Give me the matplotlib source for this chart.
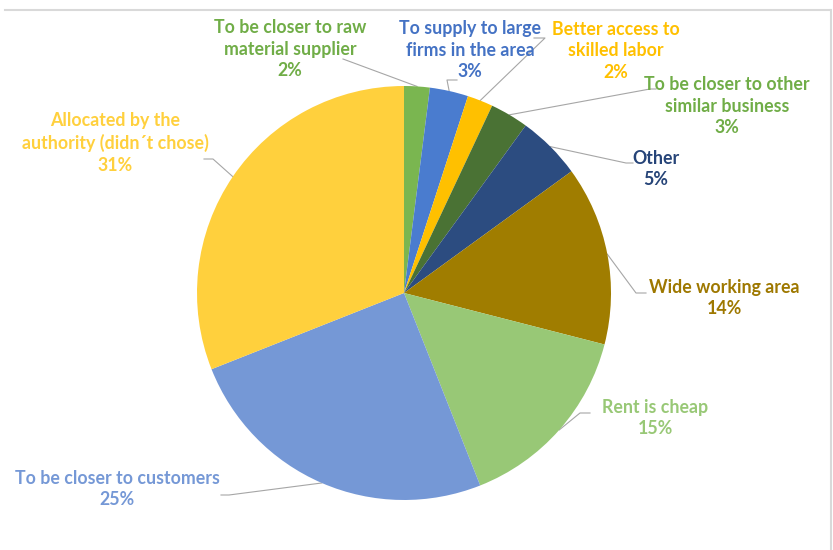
import numpy as np
import matplotlib.pyplot as plt
from matplotlib.lines import Line2D

# reasons for choosing the business location (share of respondents, %)
reasons = ["To be closer to raw\nmaterial supplier",
           "To supply to large\nfirms in the area",
           "Better access to\nskilled labor",
           "To be closer to other\nsimilar business",
           "Other",
           "Wide working area",
           "Rent is cheap",
           "To be closer to customers",
           "Allocated by the\nauthority (didn\u00b4t chose)"]
shares = [2, 3, 2, 3, 5, 14, 15, 25, 31]

slice_colors = ["#7AB650", "#4A7CCF", "#FFC000", "#4A7234", "#2C4C80",
                "#A07D00", "#98C876", "#7598D6", "#FFD03D"]
text_colors = ["#70AD47", "#4472C4", "#FFC000", "#70AD47", "#264478",
               "#9E7800", "#98C876", "#7598D6", "#FFD03D"]

W, H = 833, 550
fig = plt.figure(figsize=(W / 100, H / 100), dpi=100)
ax = fig.add_axes([0, 0, 1, 1])

cx, cy, r = 404, H - 293, 207
wedges, _ = ax.pie(shares, colors=slice_colors, startangle=90, counterclock=False,
                   center=(cx, cy), radius=r, frame=True,
                   wedgeprops=dict(linewidth=0))
ax.set_xlim(0, W)
ax.set_ylim(0, H)
ax.set_aspect("equal")
ax.axis("off")

# label text centres (pixel coords from top) and leader line bends
label_pos = [(290, 49), (470, 50), (616, 51), (727, 106), (656, 169),
             (724, 298), (655, 418), (117, 489), (115, 143)]
leader_pts = [[(343, 59)],
              [(447, 80), (457, 80)],
              [(545, 38), (534, 38)],
              [(650, 89), (656, 89)],
              [(626, 163), (633, 163)],
              [(636, 293), (646, 293)],
              [(580, 413), (590, 413)],
              [(229, 495), (221, 495)],
              [(213, 159), (204, 159)]]

for w, name, val, col, (lx, ly), pts in zip(wedges, reasons, shares, text_colors,
                                             label_pos, leader_pts):
    mid = np.deg2rad((w.theta1 + w.theta2) / 2)
    ex, ey = cx + r * np.cos(mid), cy + r * np.sin(mid)
    xs = [ex] + [p[0] for p in pts]
    ys = [ey] + [H - p[1] for p in pts]
    ax.add_line(Line2D(xs, ys, color="#A6A6A6", lw=0.8, zorder=0.5))
    ax.text(lx, H - ly, f"{name}\n{val}%", color=col, ha="center", va="center",
            fontsize=12.8, fontweight="bold", family="Lato", linespacing=1.33)

# chart area border (top and right edges)
fig.add_artist(Line2D([5 / W, 830 / W], [1 - 9.5 / H, 1 - 9.5 / H],
                      color="#D9D9D9", lw=1.5))
fig.add_artist(Line2D([830.5 / W, 830.5 / W], [1 - 9.5 / H, 0],
                      color="#D9D9D9", lw=1.5))

fig.savefig("out.png", dpi=100)
